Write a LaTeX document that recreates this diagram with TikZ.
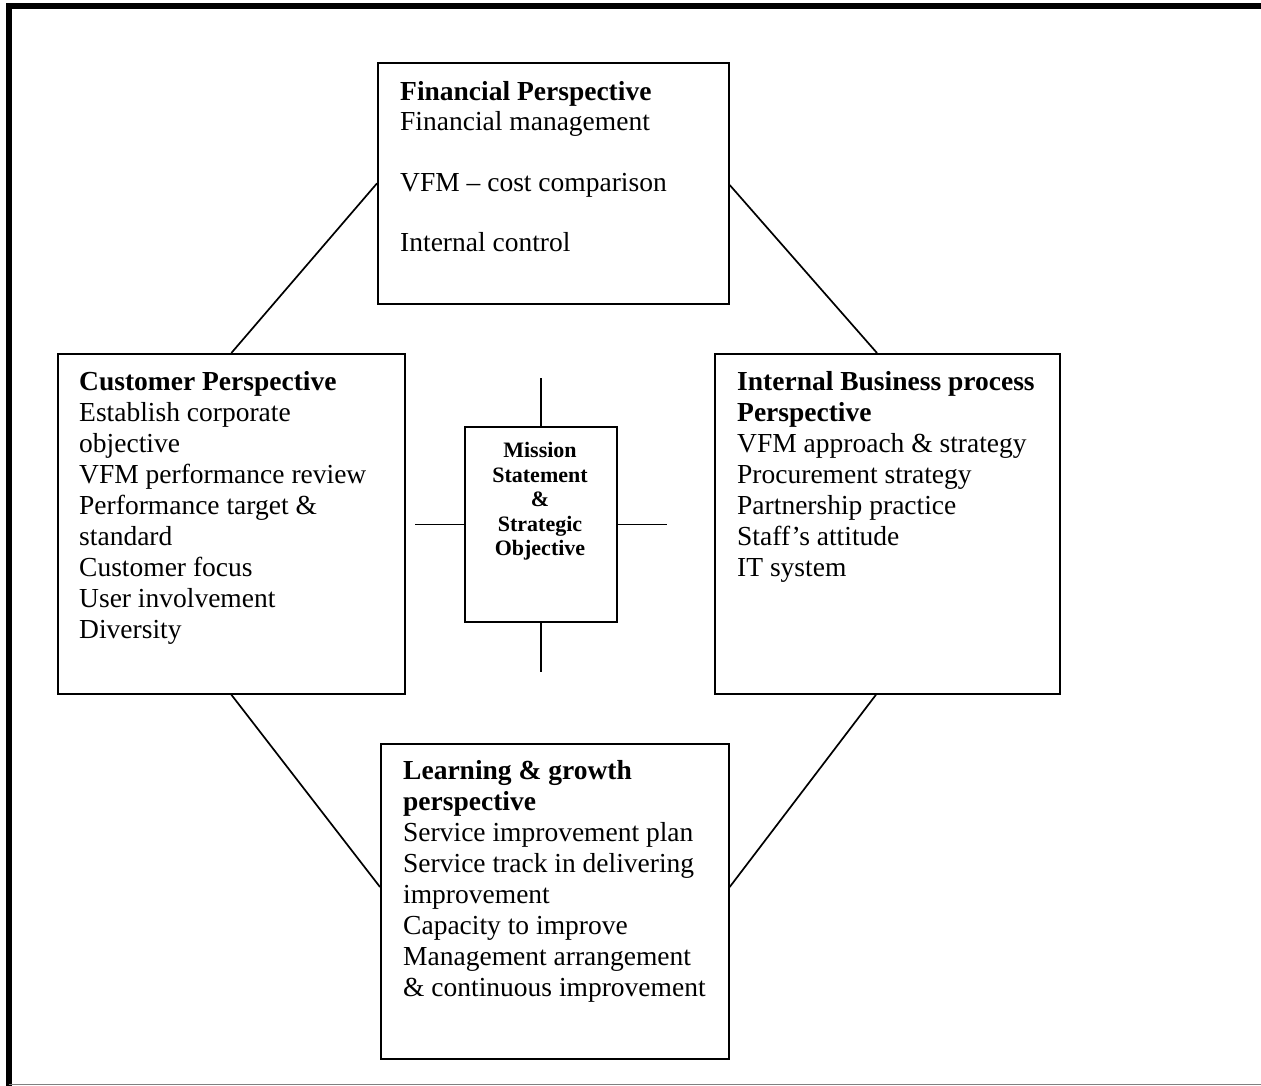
\documentclass[tikz,border=0pt]{standalone}
\usepackage{fontspec}
\setmainfont{Liberation Serif}
\usetikzlibrary{calc}
\begin{document}
\begin{tikzpicture}[x=1pt,y=-1pt,
  panel/.style={draw=black,line width=1.7pt,inner sep=0pt,anchor=north west},
  body/.style={inner sep=0pt,anchor=north west,align=left,
    font=\fontsize{27.5}{31}\selectfont},
  link/.style={draw=black,line width=1.7pt},
  centrebody/.style={inner sep=0pt,align=center,
    font=\fontsize{22}{24.6}\selectfont\bfseries}]
  % page area
  \useasboundingbox (0,0) rectangle (1261,1086);
  \fill[white] (0,0) rectangle (1261,1086);
  % outer frame
  \draw[line width=6pt] (1261,6) -- (8.5,6) -- (8.5,1086);
  \draw[gray,line width=1.5pt] (8.5,1084.5) -- (1261,1084.5);

  % the four perspective boxes
  \node[panel,minimum width=351,minimum height=241] (fin)  at (377,62)  {};
  \node[panel,minimum width=347,minimum height=340] (cust) at (57,353)  {};
  \node[panel,minimum width=345,minimum height=340] (ibp)  at (714,353) {};
  \node[panel,minimum width=348,minimum height=315] (lg)   at (380,743) {};
  % central box
  \node[panel,minimum width=152,minimum height=195] (mis)  at (464,426) {};

  % box texts
  \node[body,font=\fontsize{27.5}{30.3}\selectfont] (fint) at (400,81)
    {\textbf{Financial Perspective}\\Financial management\\[30.3pt]VFM -- cost comparison\\[30.3pt]Internal control};
  \node[body] (custt) at (79,371)
    {\textbf{Customer Perspective}\\Establish corporate\\objective\\VFM performance review\\Performance target \&\\standard\\Customer focus\\User involvement\\Diversity};
  \node[body] (ibpt) at (737,371)
    {\textbf{Internal Business process}\\\textbf{Perspective}\\VFM approach \& strategy\\Procurement strategy\\Partnership practice\\Staff's attitude\\IT system};
  \node[body] (lgt) at (403,760)
    {\textbf{Learning \& growth}\\\textbf{perspective}\\Service improvement plan\\Service track in delivering\\improvement\\Capacity to improve\\Management arrangement\\\& continuous improvement};
  \node[centrebody,anchor=north] (mist) at (540,442)
    {Mission\\Statement\\\&\\Strategic\\Objective};

  % links between the perspective boxes
  \coordinate (fl) at (fin.west);
  \coordinate (fr) at ($(fin.north east)+(0,123)$);
  \coordinate (ct) at (cust.north);
  \coordinate (cb) at (cust.south);
  \coordinate (it) at ($(ibp.north west)+(163,0)$);
  \coordinate (ib) at ($(ibp.south west)+(162,0)$);
  \coordinate (ll) at ($(lg.north west)+(0,144)$);
  \coordinate (lr) at ($(lg.north east)+(0,144)$);
  \draw[link] (fl) -- (ct);
  \draw[link] (fr) -- (it);
  \draw[link] (cb) -- (ll);
  \draw[link] (ib) -- (lr);

  % spokes around the central box
  \coordinate (mn) at ($(mis.north)+(0,-48)$);
  \coordinate (ms) at ($(mis.south)+(0,49)$);
  \coordinate (mw) at ($(mis.west)+(-49,0)$);
  \coordinate (me) at ($(mis.east)+(49,0)$);
  \draw[link] (mis.north) -- (mn);
  \draw[link] (mis.south) -- (ms);
  \draw[link] (mis.west) -- (mw);
  \draw[link] (mis.east) -- (me);
\end{tikzpicture}
\end{document}
